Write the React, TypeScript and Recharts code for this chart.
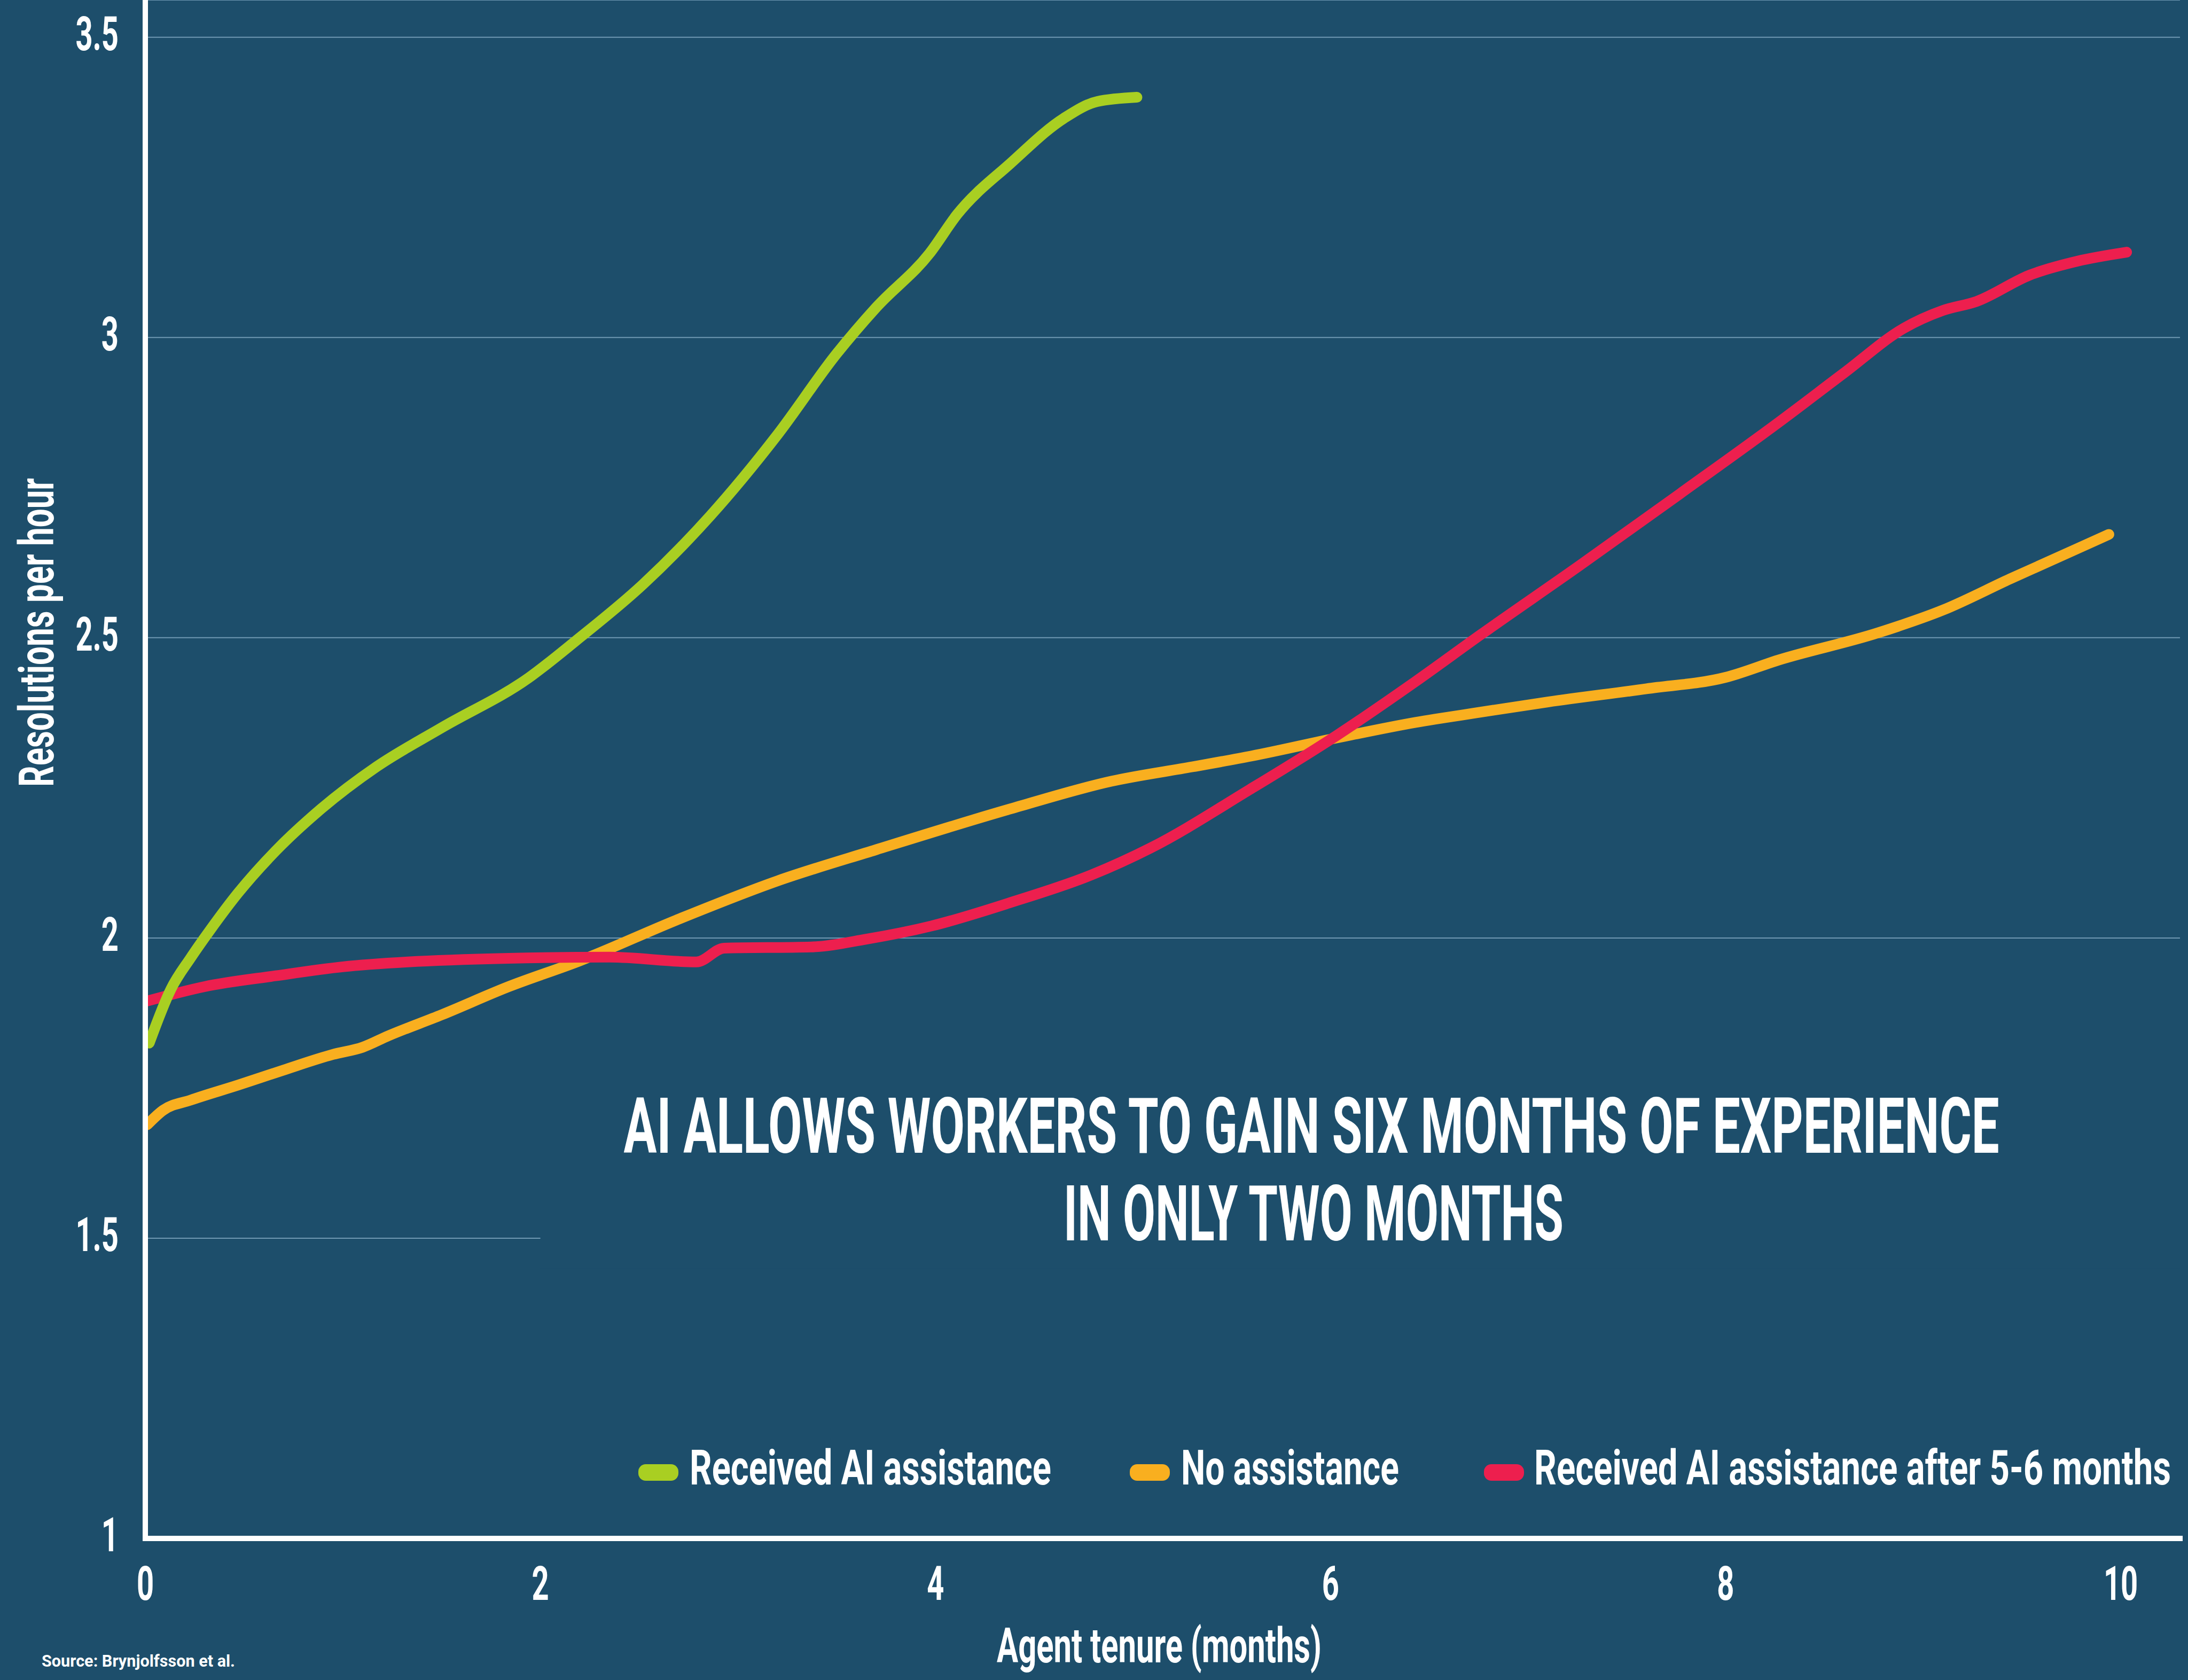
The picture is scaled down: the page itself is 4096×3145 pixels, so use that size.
import React from "react";
import { LineChart, Line, XAxis, YAxis, CartesianGrid, ReferenceArea } from "recharts";

const BG = "#1d4e6b";
const GRID = "#6f98b2";
const FONT = "Roboto, 'Liberation Sans', sans-serif";

const GREEN = "#a9cf22";
const ORANGE = "#f9af1f";
const RED = "#ed1f4e";

// tenure in months and resolutions per hour
const aiMonths = [0.02, 0.13, 0.23, 0.33, 0.47, 0.66, 0.89, 1.17, 1.5, 1.94, 2.18, 2.52, 2.86, 3.2, 3.5, 3.7, 3.97, 4.11, 4.38, 4.65, 4.82, 5.02];
const aiValues = [1.825, 1.915, 1.967, 2.014, 2.075, 2.145, 2.215, 2.285, 2.35, 2.433, 2.495, 2.589, 2.703, 2.838, 2.973, 3.05, 3.14, 3.205, 3.29, 3.365, 3.393, 3.4];

const noneMonths = [0.01, 0.09, 0.23, 0.47, 0.7, 0.95, 1.1, 1.23, 1.5, 1.84, 2.2, 2.69, 3.2, 3.7, 4.38, 4.89, 5.3, 5.6, 6.03, 6.43, 6.76, 7.1, 7.6, 8.0, 8.27, 8.77, 9.1, 9.44, 9.94];
const noneValues = [1.689, 1.713, 1.73, 1.755, 1.78, 1.806, 1.818, 1.837, 1.872, 1.919, 1.962, 2.03, 2.095, 2.147, 2.215, 2.261, 2.285, 2.303, 2.333, 2.359, 2.376, 2.393, 2.415, 2.434, 2.463, 2.508, 2.546, 2.598, 2.672];

const lateMonths = [0.01, 0.3, 0.66, 1.0, 1.33, 1.84, 2.35, 2.79, 2.93, 3.37, 3.65, 3.98, 4.38, 4.79, 5.09, 5.59, 6.03, 6.43, 6.76, 7.26, 7.77, 8.27, 8.6, 8.9, 9.1, 9.27, 9.54, 9.78, 10.03];
const lateValues = [1.895, 1.919, 1.937, 1.952, 1.96, 1.966, 1.968, 1.96, 1.983, 1.985, 1.998, 2.02, 2.059, 2.105, 2.15, 2.247, 2.337, 2.427, 2.505, 2.62, 2.74, 2.859, 2.941, 3.015, 3.045, 3.06, 3.104, 3.127, 3.142];

const xTicks = [0, 2, 4, 6, 8, 10];
const yTicks = [1, 1.5, 2, 2.5, 3, 3.5];

const seriesNames = ["Received AI assistance", "No assistance", "Received AI assistance after 5-6 months"];
const seriesColors = [GREEN, ORANGE, RED];

const toPoints = (ms: number[], vs: number[]) => ms.map((m, i) => ({ m, v: vs[i] }));
const aiData = toPoints(aiMonths, aiValues);
const noneData = toPoints(noneMonths, noneValues);
const lateData = toPoints(lateMonths, lateValues);

const axisLine = { stroke: "#ffffff", strokeWidth: 10, strokeLinecap: "square" as const };

// condensed look: smaller font stretched vertically, width pinned with textLength
const K = 0.62;
function CondText({ x, y, size, width, anchor = "start", rotate = 0, children }: any) {
  return (
    <g transform={`translate(${x},${y}) rotate(${rotate}) scale(1,${1 / K})`}>
      <text x={0} y={0} fontSize={size * K} textAnchor={anchor} textLength={width} lengthAdjust="spacingAndGlyphs">
        {children}
      </text>
    </g>
  );
}

function YTick({ x, y, payload }: any) {
  return (
    <g transform={`translate(${x},${y + 24})`}>
      <text textAnchor="end" transform="scale(0.63,1)" fill="#fff" fontSize={89} fontWeight={700} fontFamily={FONT}>
        {payload.value}
      </text>
    </g>
  );
}

function XTick({ x, y, payload }: any) {
  return (
    <g transform={`translate(${x},${y + 115})`}>
      <text textAnchor="middle" transform="scale(0.63,1)" fill="#fff" fontSize={89} fontWeight={700} fontFamily={FONT}>
        {payload.value}
      </text>
    </g>
  );
}

// legend placement: swatch x, text x, text width
const legendLayout = [
  { sx: 1195, tx: 1291, w: 677 },
  { sx: 2115, tx: 2211, w: 408 },
  { sx: 2778, tx: 2872, w: 1192 },
];

const lineStyle = {
  type: "monotone" as const,
  strokeWidth: 20,
  strokeLinecap: "round" as const,
  strokeLinejoin: "round" as const,
  dot: false,
  activeDot: false,
  isAnimationActive: false,
};

export default function App() {
  return (
    <div style={{ position: "relative", width: 4096, height: 3145, background: BG, fontFamily: FONT }}>
      <style>{`body{margin:0;background:${BG}}`}</style>
      <LineChart width={4096} height={3145} margin={{ top: 0, right: 15, bottom: 0, left: 0 }}>
        <CartesianGrid horizontal vertical={false} stroke={GRID} strokeWidth={2} />
        <XAxis
          type="number"
          dataKey="m"
          domain={[0, 10.3]}
          ticks={xTicks}
          interval={0}
          allowDataOverflow
          height={265}
          tickSize={0}
          tickMargin={0}
          tickLine={false}
          axisLine={axisLine}
          tick={(p: any) => <XTick {...p} />}
        />
        <YAxis
          type="number"
          domain={[1, 3.562]}
          ticks={yTicks}
          interval={0}
          allowDataOverflow
          width={272}
          tickSize={0}
          tickMargin={50}
          tickLine={false}
          axisLine={axisLine}
          tick={(p: any) => <YTick {...p} />}
        />
        <ReferenceArea x1={2.0} x2={10.3} y1={1.45} y2={1.75} fill={BG} fillOpacity={1} stroke="none" ifOverflow="hidden" />
        <Line data={noneData} dataKey="v" name={seriesNames[1]} stroke={ORANGE} {...lineStyle} />
        <Line data={lateData} dataKey="v" name={seriesNames[2]} stroke={RED} {...lineStyle} />
        <Line data={aiData} dataKey="v" name={seriesNames[0]} stroke={GREEN} {...lineStyle} />
      </LineChart>
      <svg width={4096} height={3145} style={{ position: "absolute", left: 0, top: 0, pointerEvents: "none" }}>
        <g fill="#fff" fontFamily={FONT} fontWeight={700}>
          <CondText x={2455} y={2158} size={145} width={2575} anchor="middle">
            AI ALLOWS WORKERS TO GAIN SIX MONTHS OF EXPERIENCE
          </CondText>
          <CondText x={2459} y={2322} size={145} width={936} anchor="middle">
            IN ONLY TWO MONTHS
          </CondText>
          {legendLayout.map((l, i) => (
            <g key={seriesNames[i]}>
              <rect x={l.sx} y={2741} width={75} height={31} rx={14} fill={seriesColors[i]} />
              <CondText x={l.tx} y={2779} size={91} width={l.w}>
                {seriesNames[i]}
              </CondText>
            </g>
          ))}
          <CondText x={100} y={1184} size={91} width={578} anchor="middle" rotate={-90}>
            Resolutions per hour
          </CondText>
          <CondText x={2170} y={3112} size={91} width={608} anchor="middle">
            Agent tenure (months)
          </CondText>
          <CondText x={78} y={3120} size={31} width={362}>
            Source: Brynjolfsson et al.
          </CondText>
        </g>
      </svg>
    </div>
  );
}
